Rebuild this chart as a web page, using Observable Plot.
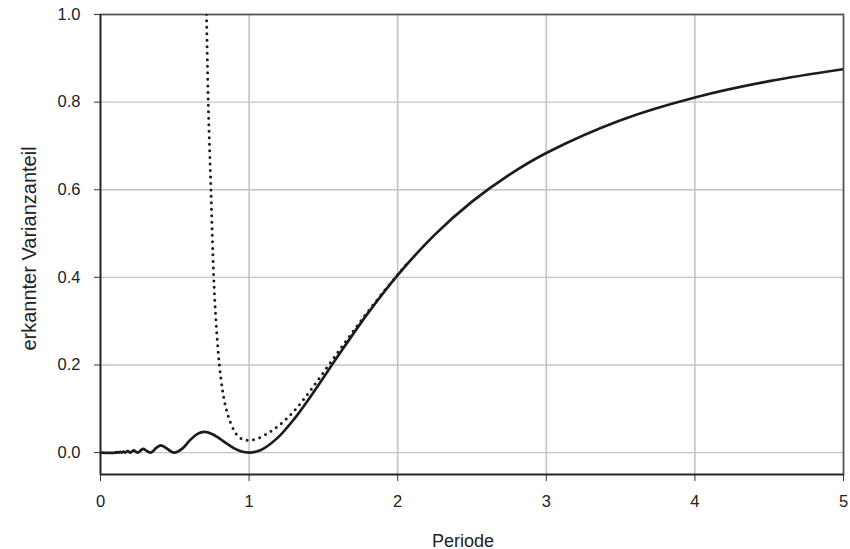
<!DOCTYPE html>
<html>
<head>
<meta charset="utf-8">
<script src="https://cdn.jsdelivr.net/npm/d3@7"></script>
<script src="https://cdn.jsdelivr.net/npm/@observablehq/plot@0.6"></script>
<style>
  html, body { margin: 0; padding: 0; background: #fff; }
  #chart { width: 850px; height: 549px; }
</style>
</head>
<body>
<div id="chart"></div>
<script>
// Tick values
const xTicks = [0, 1, 2, 3, 4, 5];
const yTicks = [0, 0.2, 0.4, 0.6, 0.8, 1.0];

// Solid curve (Periode, erkannter Varianzanteil)
const solidPeriode = [0, 0.1, 0.105, 0.1111, 0.1176, 0.125, 0.1336, 0.1429, 0.1542, 0.1667, 0.1824, 0.2, 0.21, 0.2233, 0.24, 0.25, 0.27, 0.2881, 0.31, 0.3333, 0.35, 0.375, 0.4067, 0.45, 0.475, 0.5, 0.55, 0.6, 0.65, 0.7, 0.75, 0.8, 0.85, 0.9, 0.95, 1.0, 1.05, 1.1, 1.2, 1.3, 1.4, 1.5, 1.6, 1.8, 2.0, 2.25, 2.5, 2.75, 3.0, 3.5, 4.0, 4.5, 5.0];
const solidAnteil  = [0, 0, 0.0011, 0, 0.0014, 0, 0.0018, 0, 0.0024, 0, 0.0034, 0, 0.0021, 0.0050, 0.0015, 0, 0.0048, 0.0084, 0.0041, 0, 0.0023, 0.0107, 0.0165, 0.0085, 0.0024, 0, 0.0090, 0.0274, 0.0422, 0.0472, 0.0427, 0.0324, 0.0203, 0.0096, 0.0025, 0, 0.0025, 0.0097, 0.0365, 0.0753, 0.1214, 0.1710, 0.2214, 0.3184, 0.4053, 0.4975, 0.5729, 0.6340, 0.6839, 0.7587, 0.8106, 0.8478, 0.8752];

// Dotted curve
const dotPeriode = [0.711, 0.7133, 0.725, 0.744, 0.762, 0.778, 0.80, 0.82, 0.836, 0.855, 0.875, 0.90, 0.924, 0.96, 1.0, 1.05, 1.12, 1.2, 1.3, 1.4, 1.5, 1.6, 1.7, 1.8, 1.9, 2.0, 2.08];
const dotAnteil  = [1.03, 1.0, 0.80, 0.59, 0.40, 0.295, 0.20, 0.145, 0.114, 0.088, 0.068, 0.050, 0.038, 0.030, 0.028, 0.031, 0.043, 0.062, 0.094, 0.136, 0.183, 0.230, 0.277, 0.322, 0.365, 0.406, 0.438];

const solid = solidPeriode.map((p, i) => ({p, v: solidAnteil[i]}));
const dotted = dotPeriode.map((p, i) => ({p, v: dotAnteil[i]}));

const gridCol = "#cac2c2";
const ink = "#1c1c1c";

const chart = Plot.plot({
  width: 850,
  height: 549,
  marginLeft: 100,
  marginRight: 7,
  marginTop: 14,
  marginBottom: 75,
  style: {fontFamily: "'Liberation Sans', Arial, sans-serif", color: "#222", background: "#fff"},
  x: {domain: [0, 5]},
  y: {domain: [-0.05, 1]},
  marks: [
    Plot.gridX([1, 2, 3, 4], {stroke: gridCol, strokeOpacity: 1, strokeWidth: 1.6}),
    Plot.gridY([0, 0.2, 0.4, 0.6, 0.8], {stroke: gridCol, strokeOpacity: 1, strokeWidth: 1.4}),
    Plot.frame({stroke: "#555", strokeWidth: 1.8}),
    Plot.axisX({ticks: xTicks, tickSize: 7, tickPadding: 14, fontSize: 16.5, tickFormat: d => String(d), label: null, stroke: "#333"}),
    Plot.axisY({ticks: yTicks, tickSize: 6, tickPadding: 14, fontSize: 16.5, tickFormat: d3.format(".1f"), label: null, stroke: "#333"}),
    Plot.ruleX([0], {stroke: "#222", strokeWidth: 1.5}),
    Plot.ruleY([-0.05], {stroke: "#222", strokeWidth: 1.5}),
    Plot.line(dotted, {x: "p", y: "v", curve: "catmull-rom", stroke: ink, strokeWidth: 3, strokeDasharray: "0,6.5", strokeLinecap: "round", clip: true}),
    Plot.line(solid, {x: "p", y: "v", curve: "catmull-rom", stroke: ink, strokeWidth: 2.7, clip: true}),
    Plot.text(["Periode"], {frameAnchor: "bottom", dy: 72, dx: -9, lineAnchor: "bottom", fontSize: 18, fill: "#222"}),
    Plot.text(["erkannter Varianzanteil"], {frameAnchor: "left", rotate: -90, dx: -65, dy: 4, lineAnchor: "bottom", textAnchor: "middle", fontSize: 20, fill: "#222"})
  ]
});

document.getElementById("chart").appendChild(chart);
</script>
</body>
</html>
